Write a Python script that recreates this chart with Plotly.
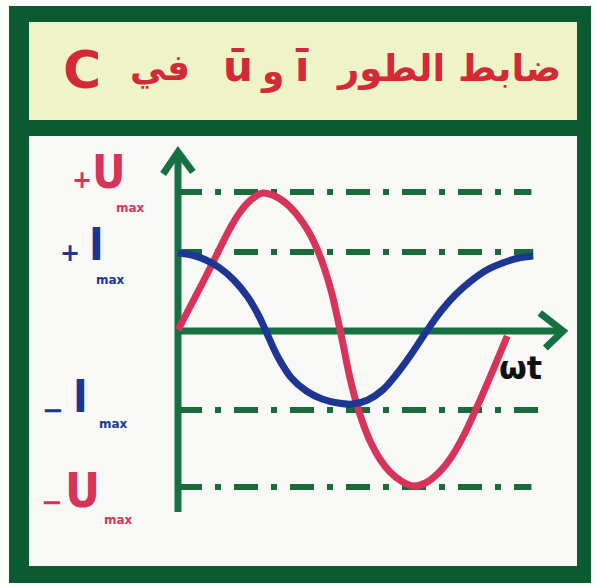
import plotly.graph_objects as go

# Figure size in pixels
W, H = 596, 585

# ---- data: phase angle ωt (degrees) and instantaneous values ----
u_wt = [0, 14, 28, 42, 55, 66, 77, 91, 104, 117, 129, 140, 150, 158, 165, 171, 177, 183,
        190, 198, 207, 217, 228, 240, 253, 266, 280, 294, 308, 322, 336, 354]
u_val = [0, 25, 50, 76, 100, 117, 129, 137, 134, 126, 114, 99, 80, 60, 38, 14, -12, -40,
         -67, -91, -112, -129, -142, -151, -156, -153, -143, -127, -104, -76, -46, -6]

i_wt = [0, 15, 30, 45, 60, 75, 87, 94, 108, 122, 138, 155, 172, 188, 204, 220, 236, 251,
        266, 282, 298, 315, 332, 349, 366, 382]
i_val = [77, 75, 70, 62, 50, 33, 14, 0, -28, -48, -61, -69, -73, -74, -70, -60, -43, -24,
         -3, 18, 35, 49, 60, 67, 72, 74]

# reference levels (peak values) drawn as dashed guides
level_names = ["+Umax", "+Imax", "-Imax", "-Umax"]
level_vals = [138, 78, -80, -157]
level_ends = [380, 382, 389, 380]

# ---- colours ----
FRAME = "#0c5a2f"
GUIDE = "#1b6a3a"
AXIS = "#177040"
RED = "#d8345a"
BLUE = "#1d3692"
TITLE_RED = "#d42a38"
BANNER = "#eef4c8"
PAPER = "#f8f8f6"


def fx(px):
    return px / W


def fy(py):
    return 1 - py / H


# axis geometry: ωt = 0 sits on pixel column 178, amplitude 0 on row 330
S = 0.93  # pixels per degree
X0_PX, X1_PX = 150, 580
Y_TOP_PX, Y_BOT_PX = 140, 530
x_min = -(178 - X0_PX) / S
x_max = x_min + (X1_PX - X0_PX) / S
y_min = 330 - Y_BOT_PX
y_max = 330 - Y_TOP_PX

fig = go.Figure()

fig.add_trace(go.Scatter(x=u_wt, y=u_val, mode="lines",
                         line=dict(color=RED, width=7, shape="spline", smoothing=1.0),
                         hoverinfo="skip", showlegend=False))
fig.add_trace(go.Scatter(x=i_wt, y=i_val, mode="lines",
                         line=dict(color=BLUE, width=7, shape="spline", smoothing=1.0),
                         hoverinfo="skip", showlegend=False))

shapes = []


def prect(x0, y0, x1, y1, color):
    shapes.append(dict(type="rect", xref="paper", yref="paper",
                       x0=fx(x0), x1=fx(x1), y0=fy(y1), y1=fy(y0),
                       fillcolor=color, line=dict(width=0), layer="below"))


# white sheet, banner and thick green frame
prect(27, 20, 579, 567, PAPER)
prect(27, 20, 579, 121, BANNER)
prect(9, 7, 29, 583, FRAME)       # left
prect(9, 6, 591, 22, FRAME)       # top
prect(577, 6, 591, 583, FRAME)    # right
prect(9, 566, 591, 583, FRAME)    # bottom
prect(27, 120, 579, 136, FRAME)   # banner underline

# dashed peak-value guides
for v, e in zip(level_vals, level_ends):
    shapes.append(dict(type="line", xref="x", yref="y", x0=0, x1=e, y0=v, y1=v,
                       line=dict(color=GUIDE, width=6, dash="24px,13px,6px,13px"),
                       layer="below"))

# axes with chevron arrow heads
shapes.append(dict(type="line", xref="x", yref="y", x0=0, x1=0, y0=-182, y1=176,
                   line=dict(color=AXIS, width=7), layer="below"))
shapes.append(dict(type="line", xref="x", yref="y", x0=0, x1=412, y0=-1, y1=-1,
                   line=dict(color=AXIS, width=7), layer="below"))
shapes.append(dict(type="path", xref="x", yref="y",
                   path="M -16,156 L 0,178 L 16,158",
                   line=dict(color=AXIS, width=7), layer="below"))
shapes.append(dict(type="path", xref="x", yref="y",
                   path="M 389,17 L 414,-1 L 395,-18",
                   line=dict(color=AXIS, width=7), layer="below"))

annotations = []


def label(text, px, py, size, color, family="DejaVu Sans"):
    annotations.append(dict(text=text, x=fx(px), y=fy(py), xref="paper", yref="paper",
                            xanchor="center", yanchor="middle", showarrow=False,
                            font=dict(size=size, color=color, family=family)))


NARROW = "DejaVu Sans Condensed, DejaVu Sans"

# title pieces
label("<b>C</b>", 82, 70, 52, TITLE_RED)
label("<b>في</b>", 160, 68, 36, TITLE_RED)
label("<b>ū</b>", 238, 66, 42, TITLE_RED)
label("<b>و</b>", 272, 72, 36, TITLE_RED)
label("<b>ī</b>", 302, 66, 42, TITLE_RED)
label("<b>ضابط الطور</b>", 448, 68, 37, TITLE_RED)

# peak value labels
label("<b>+</b>", 82, 180, 24, RED)
label("<b>U</b>", 109, 172, 46, RED, NARROW)
label("<b>max</b>", 130, 208, 12, RED)

label("<b>+</b>", 70, 253, 24, BLUE)
label("<b>I</b>", 97, 244, 44, BLUE, NARROW)
label("<b>max</b>", 110, 280, 12, BLUE)

label("<b>−</b>", 53, 410, 26, BLUE)
label("<b>I</b>", 80, 396, 44, BLUE, NARROW)
label("<b>max</b>", 113, 424, 12, BLUE)

label("<b>−</b>", 52, 502, 26, RED)
label("<b>U</b>", 82, 490, 48, RED, NARROW)
label("<b>max</b>", 118, 520, 12, RED)

# horizontal axis name
label("<b>ωt</b>", 520, 368, 32, "#111111")

fig.update_layout(
    width=W, height=H,
    margin=dict(l=0, r=0, t=0, b=0),
    paper_bgcolor="#fdfdfc",
    plot_bgcolor="rgba(0,0,0,0)",
    shapes=shapes,
    annotations=annotations,
    xaxis=dict(domain=[fx(X0_PX), fx(X1_PX)], range=[x_min, x_max], visible=False, fixedrange=True),
    yaxis=dict(domain=[fy(Y_BOT_PX), fy(Y_TOP_PX)], range=[y_min, y_max], visible=False, fixedrange=True),
    showlegend=False,
)

fig.write_html("out.html")
